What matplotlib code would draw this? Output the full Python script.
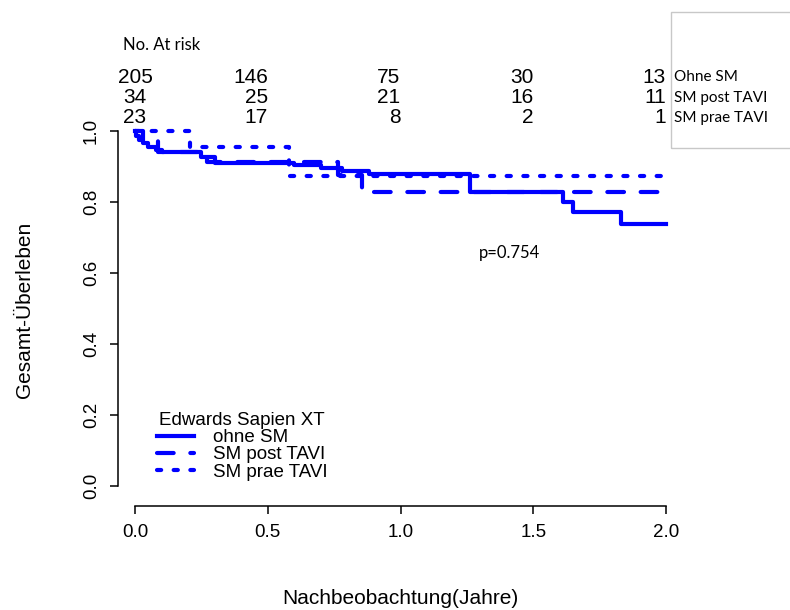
import matplotlib
matplotlib.use("Agg")
import matplotlib.pyplot as plt
from matplotlib.patches import Rectangle

# Kaplan-Meier Stufen
t_ohne = [0.0, 0.005, 0.015, 0.03, 0.05, 0.08, 0.10, 0.25, 0.30, 0.60, 0.70, 0.78, 0.88, 1.26, 1.61, 1.65, 1.83, 2.0]
s_ohne = [1.0, 0.985, 0.975, 0.965, 0.955, 0.945, 0.940, 0.925, 0.910, 0.905, 0.895, 0.888, 0.878, 0.828, 0.800, 0.772, 0.738, 0.738]

t_post = [0.0, 0.03, 0.087, 0.27, 0.765, 0.855, 2.0]
s_post = [1.0, 0.971, 0.941, 0.912, 0.876, 0.828, 0.828]

t_prae = [0.0, 0.207, 0.58, 2.0]
s_prae = [1.0, 0.955, 0.873, 0.873]

risk_times = [0.0, 0.5, 1.0, 1.5, 2.0]
risk_ohne = [205, 146, 75, 30, 13]
risk_post = [34, 25, 21, 16, 11]
risk_prae = [23, 17, 8, 2, 1]
risk_labels = ["Ohne SM", "SM post TAVI", "SM prae TAVI"]

blue = "#0000ff"
fig = plt.figure(figsize=(7.9, 6.1), dpi=100)
ax = fig.add_axes([0.1494, 0.1705, 0.7203, 0.6377])

ax.step(t_ohne, s_ohne, where="post", color=blue, lw=3, label="ohne SM")
ax.step(t_post, s_post, where="post", color=blue, lw=3, linestyle=(0, (4, 4)),
        dash_capstyle="round", label="SM post TAVI")
ax.step(t_prae, s_prae, where="post", color=blue, lw=3, linestyle=(0, (1, 3)),
        dash_capstyle="round", label="SM prae TAVI")

ax.set_xlim(-0.064, 2.079)
ax.set_ylim(-0.056, 1.039)
for s in ["top", "right"]:
    ax.spines[s].set_visible(False)
ax.spines["left"].set_bounds(0, 1)
ax.spines["bottom"].set_bounds(0, 2)
ax.spines["left"].set_linewidth(1.1)
ax.spines["bottom"].set_linewidth(1.1)
ax.set_xticks([0.0, 0.5, 1.0, 1.5, 2.0])
ax.set_yticks([0.0, 0.2, 0.4, 0.6, 0.8, 1.0])
ax.set_xticklabels(["0.0", "0.5", "1.0", "1.5", "2.0"], fontsize=13.5, family="Liberation Sans")
ax.set_yticklabels(["0.0", "0.2", "0.4", "0.6", "0.8", "1.0"], fontsize=13.5,
                   family="Liberation Sans", rotation=90, va="center")
ax.tick_params(length=6, width=1.1, pad=7)

fig.text(400 / 790, 1 - 598 / 610, "Nachbeobachtung(Jahre)", fontsize=15,
         family="Liberation Sans", ha="center", va="center")
fig.text(25 / 790, 1 - 310 / 610, "Gesamt-Überleben", fontsize=15,
         family="Liberation Sans", ha="center", va="center", rotation=90)

# Number at risk
ax.text(-0.045, 1.242, "No. At risk", fontsize=12, family="Lato", va="center", clip_on=False)
rows = [risk_ohne, risk_post, risk_prae]
row_y = [1.151, 1.093, 1.037]
for vals, yy, lab in zip(rows, row_y, risk_labels):
    for i, (tt, v) in enumerate(zip(risk_times, vals)):
        ax.text(tt, yy, str(v), fontsize=15, family="Liberation Sans",
                ha="center" if i == 0 else "right", va="center", clip_on=False)
    ax.text(2.03, yy, lab, fontsize=11, family="Lato", va="center", clip_on=False)

ax.text(1.41, 0.656, "p=0.754", fontsize=12, family="Lato", ha="center", va="center")

leg = ax.legend(loc="upper left", bbox_to_anchor=(0.045, 0.275), frameon=False,
                title="Edwards Sapien XT", handlelength=2.0, labelspacing=0.0,
                handletextpad=1.0, borderpad=0.2,
                prop={"family": "Liberation Sans", "size": 13.5})
leg.get_title().set_family("Liberation Sans")
leg.get_title().set_fontsize(13.5)

fig.patches.append(Rectangle((671 / 790, 1 - 148 / 610), 0.2, 136 / 610,
                             transform=fig.transFigure, fill=False,
                             edgecolor="#c8c8c8", lw=1))

fig.savefig("out.png", dpi=100)
